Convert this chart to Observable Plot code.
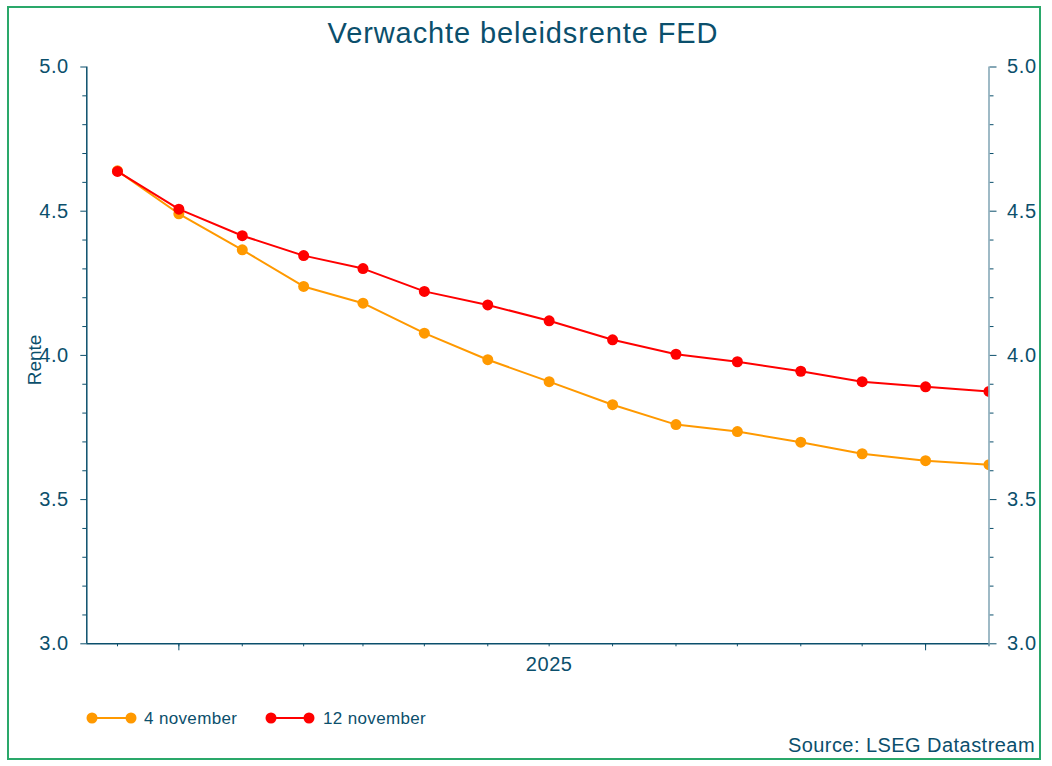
<!DOCTYPE html>
<html>
<head>
<meta charset="utf-8">
<script src="https://cdn.jsdelivr.net/npm/d3@7"></script>
<script src="https://cdn.jsdelivr.net/npm/@observablehq/plot@0.6"></script>
<style>
  body { margin: 0; background: #ffffff; }
  #wrap { position: relative; width: 1052px; height: 766px; overflow: hidden; background: #fff; }
  #border { position: absolute; left: 7px; top: 6px; width: 1034px; height: 754px; border: 2px solid #2aa86a; box-sizing: border-box; }
  #chart { position: absolute; left: 0; top: 0; }
  #overlay { position: absolute; left: 0; top: 0; }
</style>
</head>
<body>
<div id="wrap">
  <div id="border"></div>
  <div id="chart"></div>
  <svg id="overlay" width="1052" height="766"></svg>
</div>
<script>
// ---- data ----
const dates = ["2024-12-02","2025-01-01","2025-02-01","2025-03-03","2025-04-01","2025-05-01","2025-06-01","2025-07-01","2025-08-01","2025-09-01","2025-10-01","2025-11-01","2025-12-01","2026-01-01","2026-02-01"];
const nov4  = [4.640, 4.491, 4.366, 4.239, 4.181, 4.077, 3.985, 3.909, 3.829, 3.760, 3.736, 3.699, 3.659, 3.635, 3.621];
const nov12 = [4.638, 4.507, 4.415, 4.346, 4.301, 4.222, 4.175, 4.120, 4.054, 4.004, 3.978, 3.945, 3.909, 3.891, 3.875];
const seriesNames = ["4 november", "12 november"];
const seriesColors = ["#ff9900", "#ff0000"];

const yDomain = [3.0, 5.0];
const yMajorTicks = [3.0, 3.5, 4.0, 4.5, 5.0];
const yMinorTicks = [3.1, 3.2, 3.3, 3.4, 3.6, 3.7, 3.8, 3.9, 4.1, 4.2, 4.3, 4.4, 4.6, 4.7, 4.8, 4.9];
const xDomain = ["2024-11-17", "2026-02-01"];
const xYearTicks = ["2025-01-01", "2026-01-01"];
const xLabelTicks = ["2025-07-01"];
const xLabels = ["2025"];

const titleText = "Verwachte beleidsrente FED";
const yLabelText = "Rente";
const sourceText = "Source: LSEG Datastream";

// ---- build ----
const TEAL = "#0b4f6c";
const FONT = "'Liberation Sans', Arial, Helvetica, sans-serif";
const toDate = s => new Date(s + "T00:00:00Z");
const d4  = dates.map((d, i) => ({date: toDate(d), v: nov4[i]}));
const d12 = dates.map((d, i) => ({date: toDate(d), v: nov12[i]}));
const xd = xDomain.map(toDate);

const plot = Plot.plot({
  width: 1052,
  height: 700,
  marginTop: 66.5,
  marginBottom: 56.7,
  marginLeft: 86.3,
  marginRight: 63.5,
  style: { fontFamily: FONT, fontSize: "20px", letterSpacing: "0.6px", color: TEAL, background: "transparent", overflow: "visible" },
  x: { type: "utc", domain: xd },
  y: { domain: yDomain },
  marks: [
    Plot.axisY({anchor: "left", ticks: yMinorTicks, tickSize: 4, tickFormat: () => "", label: null}),
    Plot.axisY({anchor: "right", ticks: yMinorTicks, tickSize: 4, tickFormat: () => "", label: null}),
    Plot.axisY({anchor: "left", ticks: yMajorTicks, tickSize: 6, tickPadding: 12, tickFormat: d3.format(".1f"), label: null}),
    Plot.axisY({anchor: "right", ticks: yMajorTicks, tickSize: 7, tickPadding: 11, tickFormat: d3.format(".1f"), label: null}),
    Plot.axisX({anchor: "bottom", ticks: dates.map(toDate), tickSize: 3, tickFormat: () => "", label: null}),
    Plot.axisX({anchor: "bottom", ticks: xYearTicks.map(toDate), tickSize: 7, tickFormat: () => "", label: null}),
    Plot.axisX({anchor: "bottom", ticks: xLabelTicks.map(toDate), tickSize: 0, tickPadding: 13, tickFormat: (d, i) => xLabels[i], label: null}),
    Plot.line(d4,  {x: "date", y: "v", stroke: seriesColors[0], strokeWidth: 2, clip: true}),
    Plot.dot(d4,   {x: "date", y: "v", r: 5.5, fill: seriesColors[0], stroke: "none", clip: true}),
    Plot.line(d12, {x: "date", y: "v", stroke: seriesColors[1], strokeWidth: 2, clip: true}),
    Plot.dot(d12,  {x: "date", y: "v", r: 5.5, fill: seriesColors[1], stroke: "none", clip: true}),
    Plot.ruleY([yDomain[0]], {stroke: TEAL, strokeWidth: 1.5}),
    Plot.ruleX([xd[0]], {stroke: TEAL, strokeWidth: 1.5}),
    Plot.ruleX([xd[1]], {stroke: "#7fa3b3", strokeWidth: 1.5})
  ]
});
document.getElementById("chart").appendChild(plot);

// ---- overlay texts & legend ----
const ov = d3.select("#overlay").style("font-family", FONT);
ov.append("text").attr("x", 523).attr("y", 43).attr("text-anchor", "middle")
  .attr("font-size", 29).attr("letter-spacing", "0.9px").attr("fill", TEAL).text(titleText);
ov.append("text").attr("transform", "translate(41,360) rotate(-90)").attr("text-anchor", "middle")
  .attr("font-size", 19).attr("fill", TEAL).text(yLabelText);
ov.append("text").attr("x", 1035).attr("y", 752).attr("text-anchor", "end")
  .attr("font-size", 20).attr("letter-spacing", "0.45px").attr("fill", TEAL).text(sourceText);

const legendPos = [{x0: 92, x1: 131, tx: 144}, {x0: 271, x1: 309, tx: 323}];
seriesNames.forEach((name, i) => {
  const p = legendPos[i];
  const g = ov.append("g");
  g.append("line").attr("x1", p.x0).attr("x2", p.x1).attr("y1", 718).attr("y2", 718)
    .attr("stroke", seriesColors[i]).attr("stroke-width", 2);
  g.append("circle").attr("cx", p.x0).attr("cy", 718).attr("r", 5.5).attr("fill", seriesColors[i]);
  g.append("circle").attr("cx", p.x1).attr("cy", 718).attr("r", 5.5).attr("fill", seriesColors[i]);
  g.append("text").attr("x", p.tx).attr("y", 724).attr("font-size", 17).attr("letter-spacing", "0.35px").attr("fill", TEAL).text(name);
});
</script>
</body>
</html>
